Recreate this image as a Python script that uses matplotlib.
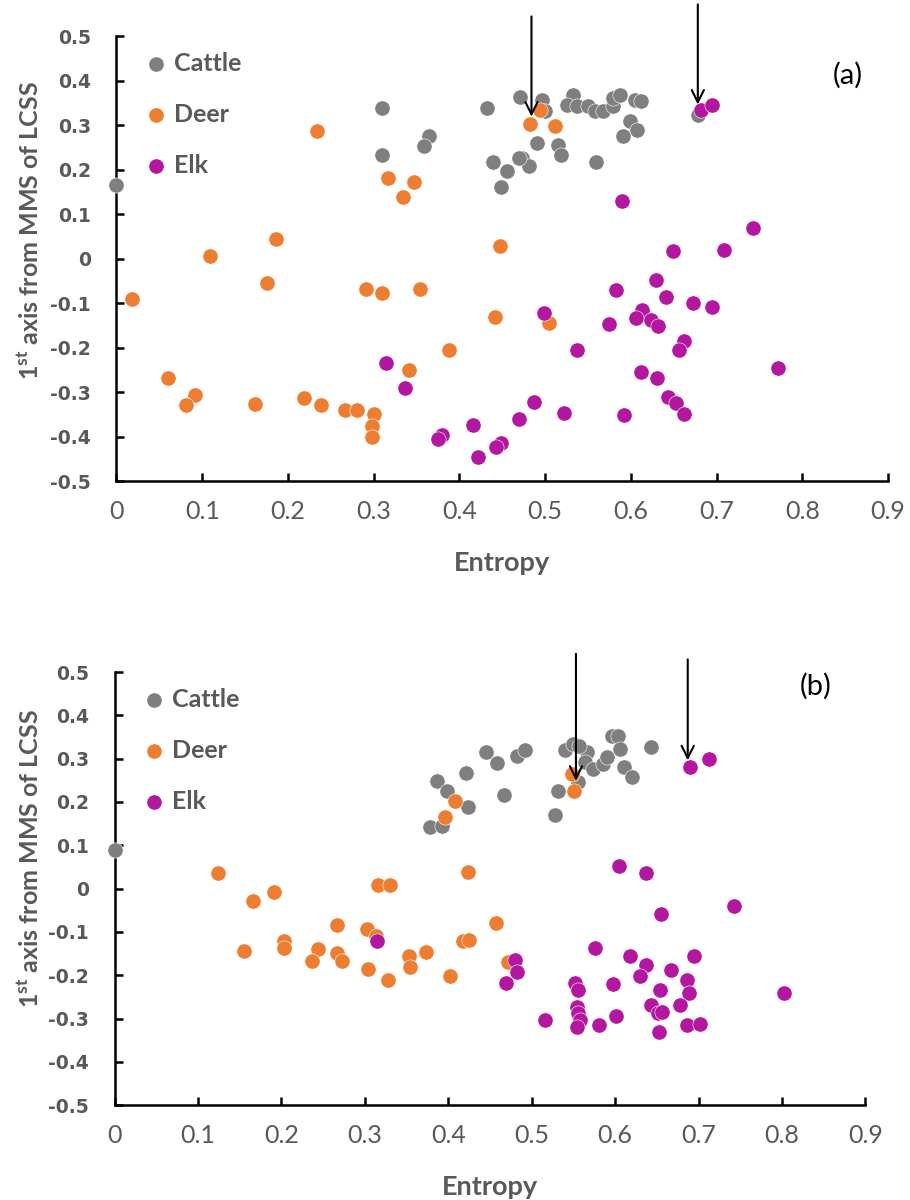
import matplotlib
matplotlib.use("Agg")
import matplotlib.pyplot as plt

# ── Panel (a) data ────────────────────────────────────────────────────────────
cattle_a_x = [0.000, 0.310, 0.310, 0.364, 0.359, 0.432, 0.439, 0.455, 0.448, 0.471,
              0.496, 0.500, 0.490, 0.515, 0.519, 0.473, 0.481, 0.559, 0.532, 0.525,
              0.537, 0.550, 0.558, 0.568, 0.579, 0.579, 0.587, 0.605, 0.612, 0.599,
              0.607, 0.591, 0.678, 0.469]
cattle_a_y = [0.166, 0.338, 0.233, 0.276, 0.252, 0.338, 0.218, 0.196, 0.160, 0.364,
              0.357, 0.331, 0.259, 0.256, 0.233, 0.226, 0.207, 0.216, 0.368, 0.346,
              0.342, 0.343, 0.331, 0.331, 0.342, 0.361, 0.368, 0.357, 0.355, 0.308,
              0.289, 0.276, 0.323, 0.226]
deer_a_x = [0.018, 0.109, 0.186, 0.176, 0.234, 0.317, 0.347, 0.334, 0.291, 0.310,
            0.354, 0.447, 0.441, 0.388, 0.341, 0.060, 0.091, 0.081, 0.161, 0.219,
            0.238, 0.266, 0.280, 0.300, 0.298, 0.298, 0.494, 0.482, 0.511, 0.505]
deer_a_y = [-0.090, 0.006, 0.045, -0.054, 0.287, 0.181, 0.173, 0.138, -0.069, -0.077,
            -0.069, 0.028, -0.132, -0.205, -0.251, -0.268, -0.307, -0.328, -0.326, -0.313,
            -0.328, -0.341, -0.340, -0.349, -0.377, -0.400, 0.334, 0.302, 0.298, -0.145]
elk_a_x = [0.682, 0.694, 0.590, 0.742, 0.649, 0.708, 0.629, 0.583, 0.641, 0.672,
           0.694, 0.499, 0.613, 0.606, 0.623, 0.631, 0.574, 0.662, 0.656, 0.537,
           0.771, 0.612, 0.630, 0.643, 0.653, 0.662, 0.592, 0.522, 0.487, 0.470,
           0.416, 0.449, 0.443, 0.422, 0.380, 0.375, 0.314, 0.337]
elk_a_y = [0.334, 0.346, 0.130, 0.068, 0.018, 0.019, -0.047, -0.071, -0.087, -0.099,
           -0.108, -0.122, -0.116, -0.133, -0.137, -0.152, -0.148, -0.186, -0.205, -0.206,
           -0.246, -0.255, -0.268, -0.311, -0.325, -0.350, -0.352, -0.346, -0.321, -0.360,
           -0.373, -0.414, -0.424, -0.446, -0.396, -0.405, -0.234, -0.290]
arrow_a_x = [0.484, 0.678]
arrow_a_top = [0.544, 0.571]
arrow_a_tip = [0.319, 0.346]

# ── Panel (b) data ────────────────────────────────────────────────────────────
cattle_b_x = [0.000, 0.386, 0.398, 0.421, 0.423, 0.378, 0.392, 0.445, 0.458, 0.467,
              0.482, 0.492, 0.528, 0.532, 0.540, 0.550, 0.566, 0.564, 0.574, 0.586,
              0.590, 0.596, 0.604, 0.606, 0.610, 0.620, 0.643, 0.556, 0.557]
cattle_b_y = [0.089, 0.249, 0.225, 0.267, 0.188, 0.142, 0.145, 0.315, 0.289, 0.215,
              0.307, 0.320, 0.169, 0.225, 0.319, 0.334, 0.315, 0.292, 0.276, 0.288,
              0.303, 0.353, 0.353, 0.323, 0.280, 0.257, 0.328, 0.245, 0.330]
deer_b_x = [0.408, 0.396, 0.124, 0.316, 0.330, 0.423, 0.166, 0.191, 0.548, 0.551,
            0.155, 0.203, 0.203, 0.244, 0.236, 0.267, 0.267, 0.273, 0.303, 0.313,
            0.304, 0.328, 0.353, 0.354, 0.373, 0.402, 0.417, 0.425, 0.457, 0.472]
deer_b_y = [0.203, 0.165, 0.035, 0.009, 0.009, 0.039, -0.029, -0.008, 0.265, 0.226,
            -0.145, -0.120, -0.136, -0.139, -0.166, -0.084, -0.149, -0.168, -0.093, -0.109,
            -0.185, -0.210, -0.155, -0.180, -0.147, -0.202, -0.122, -0.119, -0.079, -0.170]
elk_b_x = [0.690, 0.713, 0.605, 0.637, 0.314, 0.480, 0.482, 0.469, 0.655, 0.742,
           0.576, 0.618, 0.637, 0.695, 0.667, 0.630, 0.552, 0.556, 0.598, 0.686,
           0.689, 0.654, 0.802, 0.554, 0.556, 0.558, 0.554, 0.516, 0.581, 0.601,
           0.643, 0.651, 0.656, 0.678, 0.652, 0.686, 0.702]
elk_b_y = [0.280, 0.299, 0.052, 0.036, -0.120, -0.164, -0.193, -0.218, -0.058, -0.041,
           -0.138, -0.156, -0.176, -0.155, -0.189, -0.202, -0.218, -0.233, -0.220, -0.212,
           -0.241, -0.234, -0.241, -0.273, -0.288, -0.303, -0.320, -0.303, -0.316, -0.294,
           -0.269, -0.288, -0.286, -0.268, -0.332, -0.316, -0.312]
arrow_b_x = [0.553, 0.687]
arrow_b_top = [0.542, 0.529]
arrow_b_tip = [0.249, 0.296]

# ── Axis ticks ────────────────────────────────────────────────────────────────
x_ticks = [0.0, 0.1, 0.2, 0.3, 0.4, 0.5, 0.6, 0.7, 0.8, 0.9]
x_labels = ["0", "0.1", "0.2", "0.3", "0.4", "0.5", "0.6", "0.7", "0.8", "0.9"]
y_ticks = [0.5, 0.4, 0.3, 0.2, 0.1, 0.0, -0.1, -0.2, -0.3, -0.4, -0.5]
y_labels = ["0.5", "0.4", "0.3", "0.2", "0.1", "0", "-0.1", "-0.2", "-0.3", "-0.4", "-0.5"]

SPECIES = ["Cattle", "Deer", "Elk"]
COLOURS = {"Cattle": "#7f7f7f", "Deer": "#ed7d31", "Elk": "#b3179f"}
TEXT_GREY = "#595959"

plt.rcParams["font.family"] = ["Lato", "DejaVu Sans"]
plt.rcParams["mathtext.fontset"] = "custom"
plt.rcParams["mathtext.rm"] = "Lato"
plt.rcParams["mathtext.bf"] = "Lato:bold"


def draw_panel(ax, series, arrows, tag, tag_xy, ylabel_y):
    for name, (xs, ys) in zip(SPECIES, series):
        ax.scatter(xs, ys, s=120, color=COLOURS[name], edgecolors="white",
                   linewidths=0.4, label=name, zorder=3, clip_on=False)

    # arrows start above the plotting area, so no clipping
    for x, top, tip in zip(*arrows):
        ax.annotate("", xy=(x, tip), xytext=(x, top),
                    arrowprops=dict(arrowstyle="->", color="black", lw=1.5,
                                    mutation_scale=22, shrinkA=0, shrinkB=0),
                    annotation_clip=False, zorder=5)

    ax.set_xlim(0, 0.9)
    ax.set_ylim(-0.5, 0.5)
    ax.set_xticks(x_ticks)
    ax.set_xticklabels(x_labels, fontsize=18, color=TEXT_GREY)
    ax.set_yticks(y_ticks)
    ax.set_yticklabels(y_labels, fontsize=13.5, color=TEXT_GREY,
                       fontweight="bold", family="DejaVu Sans")
    ax.tick_params(direction="in", length=6, width=1.8)
    ax.tick_params(axis="x", pad=13.5)
    ax.tick_params(axis="y", pad=18.5)
    for side in ("top", "right"):
        ax.spines[side].set_visible(False)
    for side in ("left", "bottom"):
        ax.spines[side].set_linewidth(1.8)

    ax.set_xlabel("Entropy", fontsize=19.5, fontweight="bold", color=TEXT_GREY,
                  labelpad=20)
    ax.set_ylabel(r"1$^{\mathbf{st}}$ axis from MMS of LCSS", fontsize=18,
                  fontweight="bold", color=TEXT_GREY)
    ax.yaxis.set_label_coords(-0.095, ylabel_y)

    leg = ax.legend(loc="upper left", bbox_to_anchor=(0.006, 1.01), frameon=False,
                    fontsize=18, labelspacing=1.12, handletextpad=0.1,
                    borderaxespad=0.4, markerscale=1.0, handlelength=1.2)
    for t in leg.get_texts():
        t.set_color(TEXT_GREY)
        t.set_fontweight("bold")

    ax.text(tag_xy[0], tag_xy[1], tag, fontsize=21, color="black",
            ha="center", va="center")


fig = plt.figure(figsize=(9.1, 12), dpi=100)
ax_a = fig.add_axes([0.128, 0.599, 0.848, 0.371])
ax_b = fig.add_axes([0.126, 0.079, 0.825, 0.361])

draw_panel(ax_a,
           [(cattle_a_x, cattle_a_y), (deer_a_x, deer_a_y), (elk_a_x, elk_a_y)],
           (arrow_a_x, arrow_a_top, arrow_a_tip), "(a)", (0.853, 0.411), 0.564)
draw_panel(ax_b,
           [(cattle_b_x, cattle_b_y), (deer_b_x, deer_b_y), (elk_b_x, elk_b_y)],
           (arrow_b_x, arrow_b_top, arrow_b_tip), "(b)", (0.840, 0.466), 0.570)

fig.savefig("out.png", dpi=100, facecolor="white")
